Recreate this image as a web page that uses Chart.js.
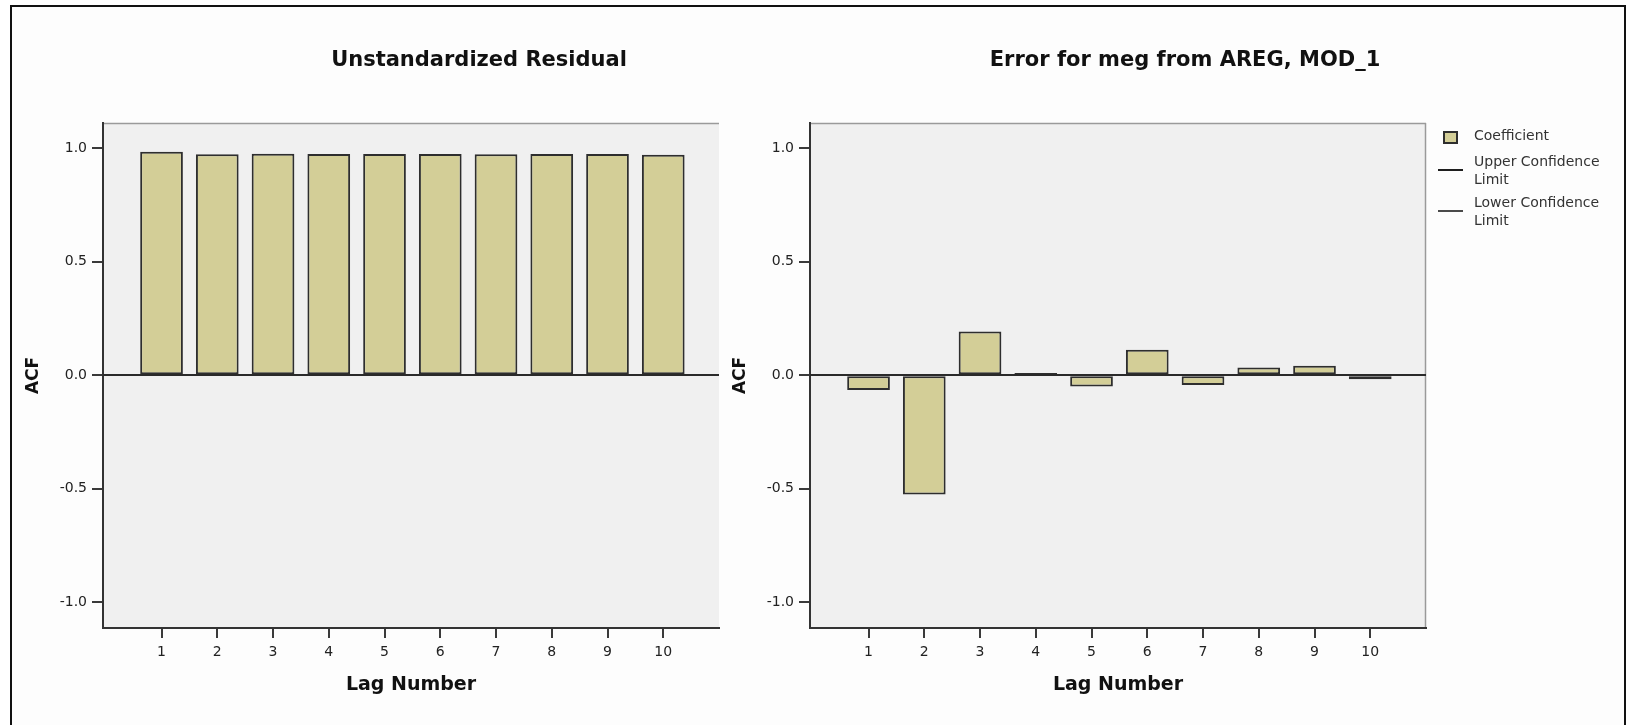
<!DOCTYPE html>
<html>
<head>
<meta charset="utf-8">
<title>ACF</title>
<script src="https://cdn.jsdelivr.net/npm/chart.js@4.4.1/dist/chart.umd.min.js"></script>
<style>
  html, body { margin: 0; padding: 0; background: #ffffff; width: 1633px; height: 725px; overflow: hidden; }
  #frame { position: absolute; left: 10px; top: 5px; width: 1616px; height: 740px; box-sizing: border-box;
           border: 2px solid #111; background: #fdfdfd; }
  canvas { position: absolute; }
  #acfLeft { left: 13px; top: 8px; }
  #acfRight { left: 724px; top: 8px; }
  #legend { position: absolute; left: 1436px; top: 126px; font-family: 'DejaVu Sans', sans-serif;
            font-size: 14px; line-height: 18px; color: #333; }
  .item { display: flex; }
  .item + .item { margin-top: 8px; }
  .lineItem + .lineItem { margin-top: 5px; }
  .mark { position: relative; width: 38px; flex: none; }
  .boxSym { position: absolute; left: 7px; top: 5px; width: 15px; height: 13px; box-sizing: border-box; border: 2px solid; }
  .lineSym { position: absolute; left: 2px; top: 17px; width: 25px; height: 2px; }
  .txt { width: 140px; }
</style>
</head>
<body>
<div id="frame"></div>
<canvas id="acfLeft" width="932" height="712"></canvas>
<canvas id="acfRight" width="922" height="712"></canvas>
<div id="legend"></div>
<script>
// Lags and autocorrelation coefficients
const lags = [1, 2, 3, 4, 5, 6, 7, 8, 9, 10];
const residualAcf = [0.985, 0.974, 0.976, 0.975, 0.975, 0.975, 0.974, 0.975, 0.975, 0.972];
const errorAcf = [-0.065, -0.526, 0.193, 0.010, -0.050, 0.112, -0.043, 0.034, 0.041, -0.018];
const yTicks = [-1.0, -0.5, 0.0, 0.5, 1.0];

const FONT = "'DejaVu Sans', sans-serif";
const BAR_FILL = '#d3ce97';
const BAR_EDGE = '#2e2e2e';

// Grey plot background, light top/right edge and the dark zero reference line
const plotFrame = {
  id: 'plotFrame',
  beforeDraw(chart, args, opts) {
    const { ctx, chartArea: a } = chart;
    ctx.save();
    ctx.fillStyle = opts.fill;
    ctx.fillRect(a.left, a.top, a.right - a.left, a.bottom - a.top);
    ctx.strokeStyle = opts.edge;
    ctx.lineWidth = 1.5;
    ctx.beginPath();
    ctx.moveTo(a.left, a.top + 0.5);
    ctx.lineTo(a.right, a.top + 0.5);
    if (opts.rightEdge) {
      ctx.moveTo(a.right - 0.5, a.top);
      ctx.lineTo(a.right - 0.5, a.bottom);
    }
    ctx.stroke();
    ctx.restore();
  },
  afterDatasetsDraw(chart, args, opts) {
    const { ctx, chartArea: a, scales } = chart;
    const y0 = Math.round(scales.y.getPixelForValue(0));
    ctx.save();
    ctx.strokeStyle = opts.zeroColor;
    ctx.lineWidth = 2;
    ctx.beginPath();
    ctx.moveTo(a.left, y0);
    ctx.lineTo(a.right, y0);
    ctx.stroke();
    ctx.restore();
  }
};

function makeAcfChart(canvasId, titleText, datasets, geom) {
  return new Chart(document.getElementById(canvasId), {
    type: 'bar',
    data: { labels: lags, datasets: datasets },
    plugins: [plotFrame],
    options: {
      responsive: false,
      animation: false,
      devicePixelRatio: 1,
      layout: { padding: 0 },
      datasets: {
        bar: { categoryPercentage: 1.0, barPercentage: 0.766, borderWidth: 2, borderSkipped: false }
      },
      plugins: {
        legend: { display: false },
        tooltip: { enabled: false },
        title: {
          display: true,
          text: titleText,
          color: '#111',
          font: { family: FONT, size: 21, weight: 'bold' },
          padding: { top: 40.4, bottom: 49.4 }
        },
        plotFrame: { fill: '#f0f0f0', edge: '#9a9a9a', rightEdge: geom.rightEdge, zeroColor: '#2a2a2a' }
      },
      scales: {
        x: {
          type: 'linear',
          min: -0.05,
          max: 11.0,
          bounds: 'data',
          offset: false,
          afterBuildTicks: s => { s.ticks = lags.map(v => ({ value: v })); },
          afterFit: s => { s.height = 92; },
          ticks: {
            autoSkip: false, maxRotation: 0, padding: 6, color: '#222',
            font: { family: FONT, size: 14 },
            callback: v => String(v)
          },
          grid: { offset: false, drawOnChartArea: false, drawTicks: true, tickLength: 10, color: '#3a3a3a', lineWidth: 2 },
          border: { display: true, color: '#333', width: 2 },
          title: {
            display: true, text: 'Lag Number', color: '#111',
            font: { family: FONT, size: 19, weight: 'bold' },
            padding: { top: 0, bottom: 23.6 }
          }
        },
        y: {
          type: 'linear',
          position: 'left',
          min: -1.115,
          max: 1.112,
          bounds: 'data',
          afterBuildTicks: s => { s.ticks = yTicks.map(v => ({ value: v })); },
          afterFit: s => { s.width = geom.yWidth; },
          ticks: {
            padding: 5, color: '#222',
            font: { family: FONT, size: 14 },
            callback: v => Number(v).toFixed(1)
          },
          grid: { drawOnChartArea: false, drawTicks: true, tickLength: 11, color: '#3a3a3a', lineWidth: 2 },
          border: { display: true, color: '#333', width: 2 },
          title: {
            display: true, text: 'ACF', color: '#111',
            font: { family: FONT, size: 17, weight: 'bold' },
            padding: { top: geom.acfPad, bottom: 0 }
          }
        },
        side: {
          type: 'linear',
          position: 'right',
          display: true,
          grid: { display: false },
          border: { display: false },
          ticks: { display: false },
          afterFit: s => { s.width = geom.sideWidth; }
        }
      }
    }
  });
}

const leftChart = makeAcfChart('acfLeft', 'Unstandardized Residual', [
  { label: 'Coefficient', data: residualAcf, backgroundColor: BAR_FILL, borderColor: BAR_EDGE }
], { yWidth: 90, sideWidth: 226, acfPad: 10.8, rightEdge: false });

const rightChart = makeAcfChart('acfRight', 'Error for meg from AREG, MOD_1', [
  { label: 'Coefficient', data: errorAcf, backgroundColor: BAR_FILL, borderColor: BAR_EDGE },
  { type: 'line', label: 'Upper Confidence Limit', data: [], borderColor: '#1e1e1e', borderWidth: 2, pointRadius: 0 },
  { type: 'line', label: 'Lower Confidence Limit', data: [], borderColor: '#4a4a4a', borderWidth: 2, pointRadius: 0 }
], { yWidth: 86, sideWidth: 220, acfPad: 6.8, rightEdge: true });

// Legend built from the right chart's datasets
(function buildLegend(chart, el) {
  chart.data.datasets.forEach(ds => {
    const row = document.createElement('div');
    row.className = 'item ' + (ds.type === 'line' ? 'lineItem' : 'barItem');
    const mark = document.createElement('span');
    mark.className = 'mark';
    const sym = document.createElement('span');
    if (ds.type === 'line') {
      sym.className = 'lineSym';
      sym.style.background = ds.borderColor;
    } else {
      sym.className = 'boxSym';
      sym.style.background = ds.backgroundColor;
      sym.style.borderColor = ds.borderColor;
    }
    mark.appendChild(sym);
    const txt = document.createElement('span');
    txt.className = 'txt';
    txt.textContent = ds.label;
    row.appendChild(mark);
    row.appendChild(txt);
    el.appendChild(row);
  });
})(rightChart, document.getElementById('legend'));
</script>
</body>
</html>
